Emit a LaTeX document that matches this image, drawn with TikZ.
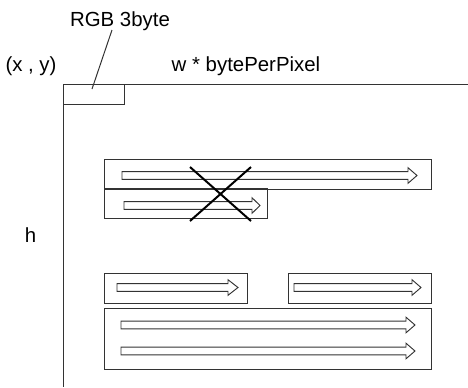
\documentclass[tikz,border=0pt]{standalone}
\usepackage{fontspec}
\setmainfont{Liberation Sans}
\newcommand\barrow[4]{% x1, xhead, xtip, yc
  \draw[arrowline] (#1,#4-3.8) -- (#2,#4-3.8) -- (#2,#4-7.8) -- (#3,#4) -- (#2,#4+7.8) -- (#2,#4+3.8) -- (#1,#4+3.8) -- cycle;}
\begin{document}
\begin{tikzpicture}[x=0.75pt,y=-0.75pt,
  frame/.style={draw=black!80, line width=0.75pt},
  arrowline/.style={draw=black!80, line width=0.7pt, line join=miter},
  lbl/.style={font=\fontsize{15.3}{18}\selectfont, inner sep=0pt, anchor=base},
  cross/.style={draw=black, line width=1.5pt}]
\useasboundingbox (0,0) rectangle (468,387);
% labels
\node[lbl] (rgb) at (120,26) {RGB 3byte};
\node[lbl] (xy) at (31,71) {(x , y)};
\node[lbl] (wb) at (246,71) {w * bytePerPixel};
\node[lbl] (h) at (30.5,242) {h};
% image frame
\draw[frame] (468,84) -- (63,84) -- (63,387);
\draw[frame] (63,84) rectangle (124,104);
\coordinate (pix) at (92,89);
\draw[frame] (112,30) -- (pix);
% rows
\draw[frame] (104,159) rectangle (431,189);
\draw[frame] (104,188) rectangle (267,218);
\draw[frame] (104,273) rectangle (247,303);
\draw[frame] (288,273) rectangle (431,303);
\draw[frame] (104,308) rectangle (431,369);
\barrow{122}{408}{417}{175.5}
\barrow{124}{252}{260}{205.5}
\barrow{117}{228}{238}{287.5}
\barrow{294}{412}{421}{287.5}
\barrow{121}{406}{415}{325}
\barrow{121}{406}{415}{351}
% cross
\draw[cross] (190,167) -- (251,221);
\draw[cross] (251,167) -- (190,221);
\end{tikzpicture}
\end{document}
